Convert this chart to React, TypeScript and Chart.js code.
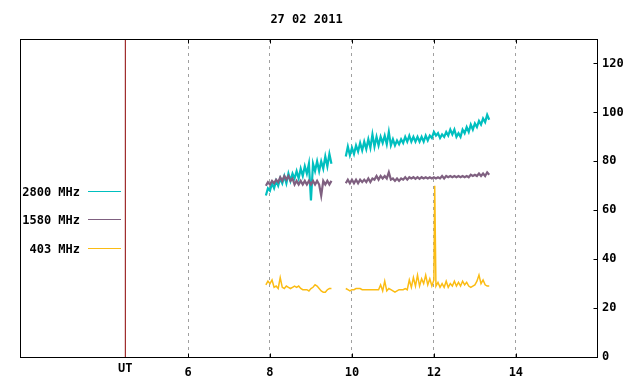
import React, { useEffect, useRef } from "react";
import { Chart, registerables } from "chart.js";

Chart.register(...registerables);

const titleText = "27 02 2011";
const seriesNames = ["2800 MHz", "1580 MHz", "403 MHz"];
const seriesColors = ["#00bfbf", "#7f6080", "#fbbc14"];
const xTicks = [6, 8, 10, 12, 14];
const xTickLabels = ["6", "8", "10", "12", "14"];
const yTicks = [0, 20, 40, 60, 80, 100, 120];
const yTickLabels = ["0", "20", "40", "60", "80", "100", "120"];
const xMin = 1.9;
const xMax = 15.98;
const yMin = 0;
const yMax = 130;
const utTime = 4.47;
const utLabel = "UT";
const gapTime = 9.7;

const times1 = [
  7.9, 7.95, 8.0, 8.05, 8.1, 8.15, 8.2, 8.25, 8.3, 8.35, 8.4, 8.45, 8.5, 8.55,
  8.6, 8.65, 8.7, 8.75, 8.8, 8.85, 8.9, 8.95, 9.0, 9.05, 9.1, 9.15, 9.2, 9.25,
  9.3, 9.35, 9.4, 9.45, 9.5,
];
const times2 = [
  9.85, 9.9, 9.95, 10.0, 10.05, 10.1, 10.15, 10.2, 10.25, 10.3, 10.35, 10.4,
  10.45, 10.5, 10.55, 10.6, 10.65, 10.7, 10.75, 10.8, 10.85, 10.9, 10.95, 11.0,
  11.05, 11.1, 11.15, 11.2, 11.25, 11.3, 11.35, 11.4, 11.45, 11.5, 11.55, 11.6,
  11.65, 11.7, 11.75, 11.8, 11.85, 11.9, 11.95, 12.0, 12.05, 12.1, 12.15, 12.2,
  12.25, 12.3, 12.35, 12.4, 12.45, 12.5, 12.55, 12.6, 12.65, 12.7, 12.75, 12.8,
  12.85, 12.9, 12.95, 13.0, 13.05, 13.1, 13.15, 13.2, 13.25, 13.3, 13.35,
];

const mhz2800Seg1 = [
  66, 69, 68, 71, 69, 72, 70, 73, 71, 74, 71, 75, 72, 75, 73, 76, 73, 77, 74,
  78, 75, 79, 64, 79, 76, 80, 76, 80, 77, 82, 78, 83, 79,
];
const mhz2800Seg2 = [
  82, 86, 82.5, 85.5, 83, 86.5, 84, 87.5, 84.5, 88,
  85, 89, 85.5, 91, 86, 90, 86.5, 90, 87.5, 90.5,
  87, 92, 86.5, 89, 86.5, 88.5, 87, 89, 87.5, 90,
  88, 90.5, 88, 90, 88, 90, 88, 90, 88, 90.5,
  88.5, 90.5, 89.5, 92, 90.5, 91.5, 89.5, 91, 90, 92,
  90.5, 93, 91, 93, 90, 91.5, 90, 93, 91.5, 94,
  92, 95, 93, 95.5, 94, 96.5, 95, 97.5, 96, 99, 97,
];

const mhz1580Seg1 = [
  70, 71.5, 70.5, 72, 71, 72.5, 71.5, 73.5, 72, 74, 72.5, 74, 72, 73, 70.5, 72,
  70.5, 72, 70.5, 72, 70.5, 72, 70.5, 72, 70.5, 72, 70.5, 66, 72, 70.5, 72,
  70.5, 72,
];
const mhz1580Seg2 = [
  71, 72.5, 71, 72.5, 71, 72.5, 71, 72.5, 71.5, 72.5,
  71.5, 73, 71.5, 73, 72.5, 74, 72.5, 74, 73, 74,
  73, 75.5, 72.5, 73, 72, 73, 72, 73, 72.5, 73.5,
  72.5, 73.5, 73, 73.5, 72.8, 73.5, 72.8, 73.5, 73, 73.5,
  73, 73.5, 73, 73.5, 73, 73.5, 73, 74, 73, 74,
  73.5, 74, 73.5, 74, 73.5, 74, 73.5, 74, 73.5, 74,
  73.5, 74.5, 74, 74.5, 74, 75, 74, 75, 74, 75.5, 74.5,
];

const mhz403Seg1 = [
  29.5, 31, 30, 31.5, 28.5, 29, 28, 32.5, 28.5, 28, 29, 28.5, 28, 28.5, 29,
  28.5, 29, 28, 27.5, 27.5, 27.5, 27, 28, 28.5, 29.5, 29, 28, 27, 26.5, 26.5,
  27.5, 28, 28,
];
const mhz403Seg2 = [
  28, 27.5, 27, 27.5, 27.5, 28, 28, 28, 27.5, 27.5,
  27.5, 27.5, 27.5, 27.5, 27.5, 27.5, 27.5, 29.5, 27, 31,
  27, 28, 27.5, 27, 26.5, 27, 27.5, 27.5, 27.5, 28,
  27.5, 31.5, 28.5, 32.5, 29, 33.5, 29, 32, 30, 33.5,
  29.5, 32, 29, 31.5, 29, 30.5, 28.5, 30, 28.5, 31,
  28.5, 30, 29, 31, 29, 30.5, 29, 31, 29.5, 30.5,
  29, 28.5, 29, 29.5, 31, 33.5, 30, 31.5, 29.5, 29, 29,
];
const spike403Time = 12.02;
const spike403Value = 70;

type Pt = { x: number; y: number | null };

function buildPoints(
  t1: number[],
  v1: number[],
  t2: number[],
  v2: number[],
  extra: Pt[] = []
): Pt[] {
  const pts: Pt[] = [
    ...t1.map((x, i) => ({ x, y: v1[i] })),
    { x: gapTime, y: null },
    ...t2.map((x, i) => ({ x, y: v2[i] })),
    ...extra,
  ];
  return pts.sort((a, b) => a.x - b.x);
}

const FONT = '"DejaVu Sans Mono", "Liberation Mono", monospace';

const framePlugin = {
  id: "gnuplotFrame",
  afterDatasetsDraw(chart: any) {
    const { ctx, chartArea: a, scales } = chart;
    const L = Math.round(a.left) + 0.5;
    const R = Math.round(a.right) + 0.5;
    const T = Math.round(a.top) + 0.5;
    const B = Math.round(a.bottom) + 0.5;
    ctx.save();
    ctx.strokeStyle = "#000000";
    ctx.lineWidth = 1;
    ctx.strokeRect(L, T, R - L, B - T);
    ctx.beginPath();
    xTicks.forEach((v) => {
      const px = Math.round(scales.x.getPixelForValue(v)) + 0.5;
      ctx.moveTo(px, B);
      ctx.lineTo(px, B - 4);
      ctx.moveTo(px, T);
      ctx.lineTo(px, T + 4);
    });
    yTicks.forEach((v) => {
      const py = Math.round(scales.y.getPixelForValue(v)) + 0.5;
      ctx.moveTo(R, py);
      ctx.lineTo(R - 4, py);
    });
    ctx.stroke();

    ctx.fillStyle = "#000000";
    ctx.font = "bold 12px " + FONT;
    ctx.textBaseline = "middle";
    ctx.textAlign = "center";
    ctx.fillText(titleText, (a.left + a.right) / 2 - 2, 20);

    const utPx = scales.x.getPixelForValue(utTime);
    ctx.fillText(utLabel, utPx, 369);

    const rowsY = [191.5, 219.5, 248.5];
    seriesNames.forEach((name, i) => {
      ctx.textAlign = "right";
      ctx.fillStyle = "#000000";
      ctx.fillText(name, a.left + 60, rowsY[i] + 1);
      ctx.strokeStyle = seriesColors[i];
      ctx.lineWidth = 1;
      ctx.beginPath();
      ctx.moveTo(a.left + 68, rowsY[i]);
      ctx.lineTo(a.left + 101, rowsY[i]);
      ctx.stroke();
    });
    ctx.restore();
  },
};

export default function App() {
  const canvasRef = useRef<HTMLCanvasElement | null>(null);

  useEffect(() => {
    if (!canvasRef.current) return;
    const d2800 = buildPoints(times1, mhz2800Seg1, times2, mhz2800Seg2);
    const d1580 = buildPoints(times1, mhz1580Seg1, times2, mhz1580Seg2);
    const d403 = buildPoints(times1, mhz403Seg1, times2, mhz403Seg2, [
      { x: spike403Time, y: spike403Value },
    ]);
    const common = {
      pointRadius: 0,
      tension: 0,
      spanGaps: false,
      fill: false,
    };
    const chart = new Chart(canvasRef.current, {
      type: "line",
      data: {
        datasets: [
          {
            ...common,
            label: seriesNames[2],
            data: d403 as any,
            borderColor: seriesColors[2],
            borderWidth: 1.5,
            order: 0,
          },
          {
            ...common,
            label: seriesNames[1],
            data: d1580 as any,
            borderColor: seriesColors[1],
            borderWidth: 2.2,
            order: 1,
          },
          {
            ...common,
            label: seriesNames[0],
            data: d2800 as any,
            borderColor: seriesColors[0],
            borderWidth: 2.2,
            order: 2,
          },
          {
            ...common,
            label: utLabel,
            data: [
              { x: utTime, y: yMin },
              { x: utTime, y: yMax },
            ] as any,
            borderColor: "#8b0000",
            borderWidth: 1,
            order: 3,
          },
        ],
      },
      options: {
        animation: false,
        responsive: false,
        maintainAspectRatio: false,
        parsing: true,
        layout: { padding: { left: 20, top: 39, right: 0, bottom: 0 } },
        plugins: {
          legend: { display: false },
          tooltip: { enabled: false },
          title: { display: false },
        },
        scales: {
          x: {
            type: "linear",
            position: "bottom",
            min: xMin,
            max: xMax,
            afterBuildTicks: (scale: any) => {
              scale.ticks = xTicks.map((v) => ({ value: v }));
            },
            afterFit: (scale: any) => {
              scale.height = 27;
            },
            ticks: {
              autoSkip: false,
              maxRotation: 0,
              color: "#000000",
              padding: 9,
              font: { family: FONT, size: 12, weight: "bold" },
              callback: (v: any) => {
                const i = xTicks.indexOf(Number(v));
                return i >= 0 ? xTickLabels[i] : "";
              },
            },
            grid: {
              display: true,
              drawOnChartArea: true,
              drawTicks: false,
              color: "#a0a0a0",
              lineWidth: 1,
            },
            border: { display: false, dash: [3, 4] },
          },
          y: {
            type: "linear",
            position: "right",
            min: yMin,
            max: yMax,
            afterBuildTicks: (scale: any) => {
              scale.ticks = yTicks.map((v) => ({ value: v }));
            },
            afterFit: (scale: any) => {
              scale.width = 43;
            },
            ticks: {
              color: "#000000",
              padding: 5,
              font: { family: FONT, size: 12, weight: "bold" },
              callback: (v: any) => {
                const i = yTicks.indexOf(Number(v));
                return i >= 0 ? yTickLabels[i] : "";
              },
            },
            grid: { display: false, drawTicks: false },
            border: { display: false },
          },
        },
      } as any,
      plugins: [framePlugin],
    });
    return () => chart.destroy();
  }, []);

  return (
    <div
      style={{
        position: "absolute",
        left: 0,
        top: 0,
        width: 640,
        height: 384,
        background: "#ffffff",
      }}
    >
      <canvas ref={canvasRef} width={640} height={384} />
    </div>
  );
}
